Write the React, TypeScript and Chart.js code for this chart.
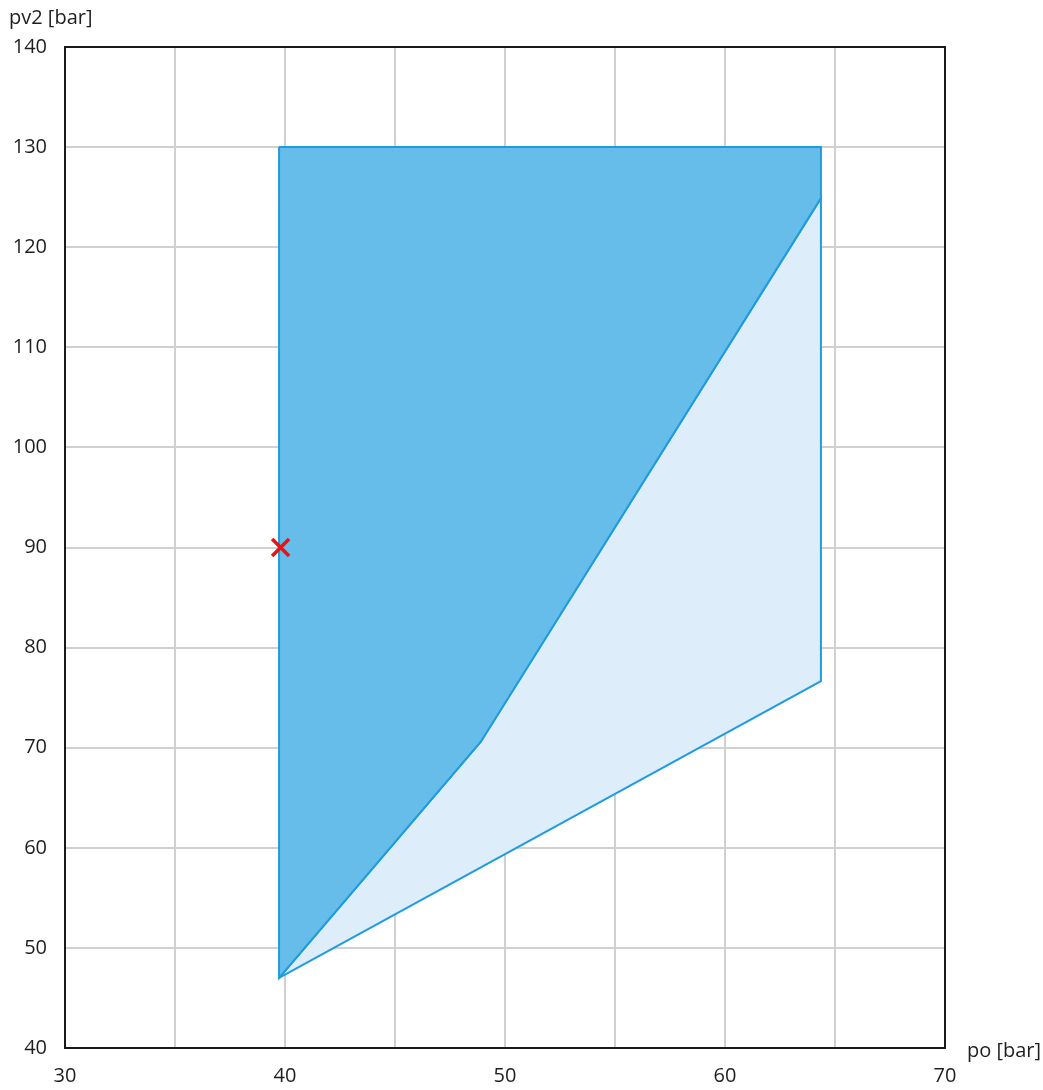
import React, { useEffect, useRef } from "react";
import { Chart, registerables } from "chart.js";

Chart.register(...registerables);

// Envelope corner points (po [bar], pv2 [bar])
const darkPolygonX = [39.73, 64.36, 64.36, 48.9, 39.73, 39.73];
const darkPolygonY = [130, 130, 124.9, 70.6, 47, 130];
const lightPolygonX = [39.73, 48.9, 64.36, 64.36, 39.73];
const lightPolygonY = [47, 70.6, 124.9, 76.66, 47];
const markerX = [39.8];
const markerY = [90];

const xTicks = [30, 40, 50, 60, 70];
const yTicks = [40, 50, 60, 70, 80, 90, 100, 110, 120, 130, 140];
const xTitle = "po [bar]";
const yTitle = "pv2 [bar]";

const FONT = "'Segoe UI', 'Open Sans', 'Noto Sans', sans-serif";
const TEXT = "#1e1e1e";

const toPts = (xs: number[], ys: number[]) => xs.map((x, i) => ({ x, y: ys[i] }));

export default function App() {
  const ref = useRef<HTMLCanvasElement | null>(null);
  useEffect(() => {
    if (!ref.current) return;
    const frame = {
      id: "frame",
      afterDraw(chart: any) {
        const { ctx, chartArea: a } = chart;
        ctx.save();
        ctx.strokeStyle = "#1a1a1a";
        ctx.lineWidth = 2;
        ctx.strokeRect(a.left, a.top, a.right - a.left, a.bottom - a.top);
        ctx.fillStyle = TEXT;
        ctx.font = `20px ${FONT}`;
        ctx.textBaseline = "middle";
        ctx.textAlign = "left";
        ctx.fillText(yTitle, 9, 18);
        ctx.fillText(xTitle, 967, 1051);
        ctx.restore();
      },
    };
    const chart = new Chart(ref.current, {
      type: "scatter",
      data: {
        datasets: [
          {
            data: toPts(markerX, markerY),
            pointStyle: "crossRot",
            pointRadius: 12,
            pointBorderColor: "#ee1111",
            pointBorderWidth: 3.5,
            showLine: false,
          } as any,
          {
            data: toPts(darkPolygonX, darkPolygonY),
            showLine: true,
            fill: "shape",
            backgroundColor: "#67bde9",
            borderColor: "#1f9be0",
            borderWidth: 2,
            pointRadius: 0,
            tension: 0,
          },
          {
            data: toPts(lightPolygonX, lightPolygonY),
            showLine: true,
            fill: "shape",
            backgroundColor: "#ddeefa",
            borderColor: "#1f9be0",
            borderWidth: 2,
            pointRadius: 0,
            tension: 0,
          },
        ],
      },
      options: {
        responsive: false,
        animation: false,
        layout: { padding: { top: 47, right: 98, bottom: 0, left: 0 } },
        plugins: { legend: { display: false }, tooltip: { enabled: false } },
        scales: {
          x: {
            type: "linear",
            min: 30,
            max: 70,
            afterFit: (s: any) => {
              s.height = 42;
            },
            ticks: {
              stepSize: 5,
              padding: 16,
              color: TEXT,
              font: { family: FONT, size: 20 },
              maxRotation: 0,
              callback: (v: any) => (xTicks.includes(Number(v)) ? String(v) : ""),
            },
            grid: { color: "#d0d0d0", lineWidth: 2, drawTicks: false },
            border: { display: false },
          },
          y: {
            type: "linear",
            min: 40,
            max: 140,
            afterFit: (s: any) => {
              s.width = 65;
            },
            ticks: {
              stepSize: 10,
              padding: 18,
              color: TEXT,
              font: { family: FONT, size: 20 },
              callback: (v: any) => (yTicks.includes(Number(v)) ? String(v) : ""),
            },
            grid: { color: "#d0d0d0", lineWidth: 2, drawTicks: false },
            border: { display: false },
          },
        },
      },
      plugins: [frame],
    } as any);
    return () => chart.destroy();
  }, []);
  return (
    <div style={{ position: "absolute", left: 0, top: 0, width: 1043, height: 1090, background: "#fff" }}>
      <canvas ref={ref} width={1043} height={1090} style={{ display: "block" }} />
    </div>
  );
}
